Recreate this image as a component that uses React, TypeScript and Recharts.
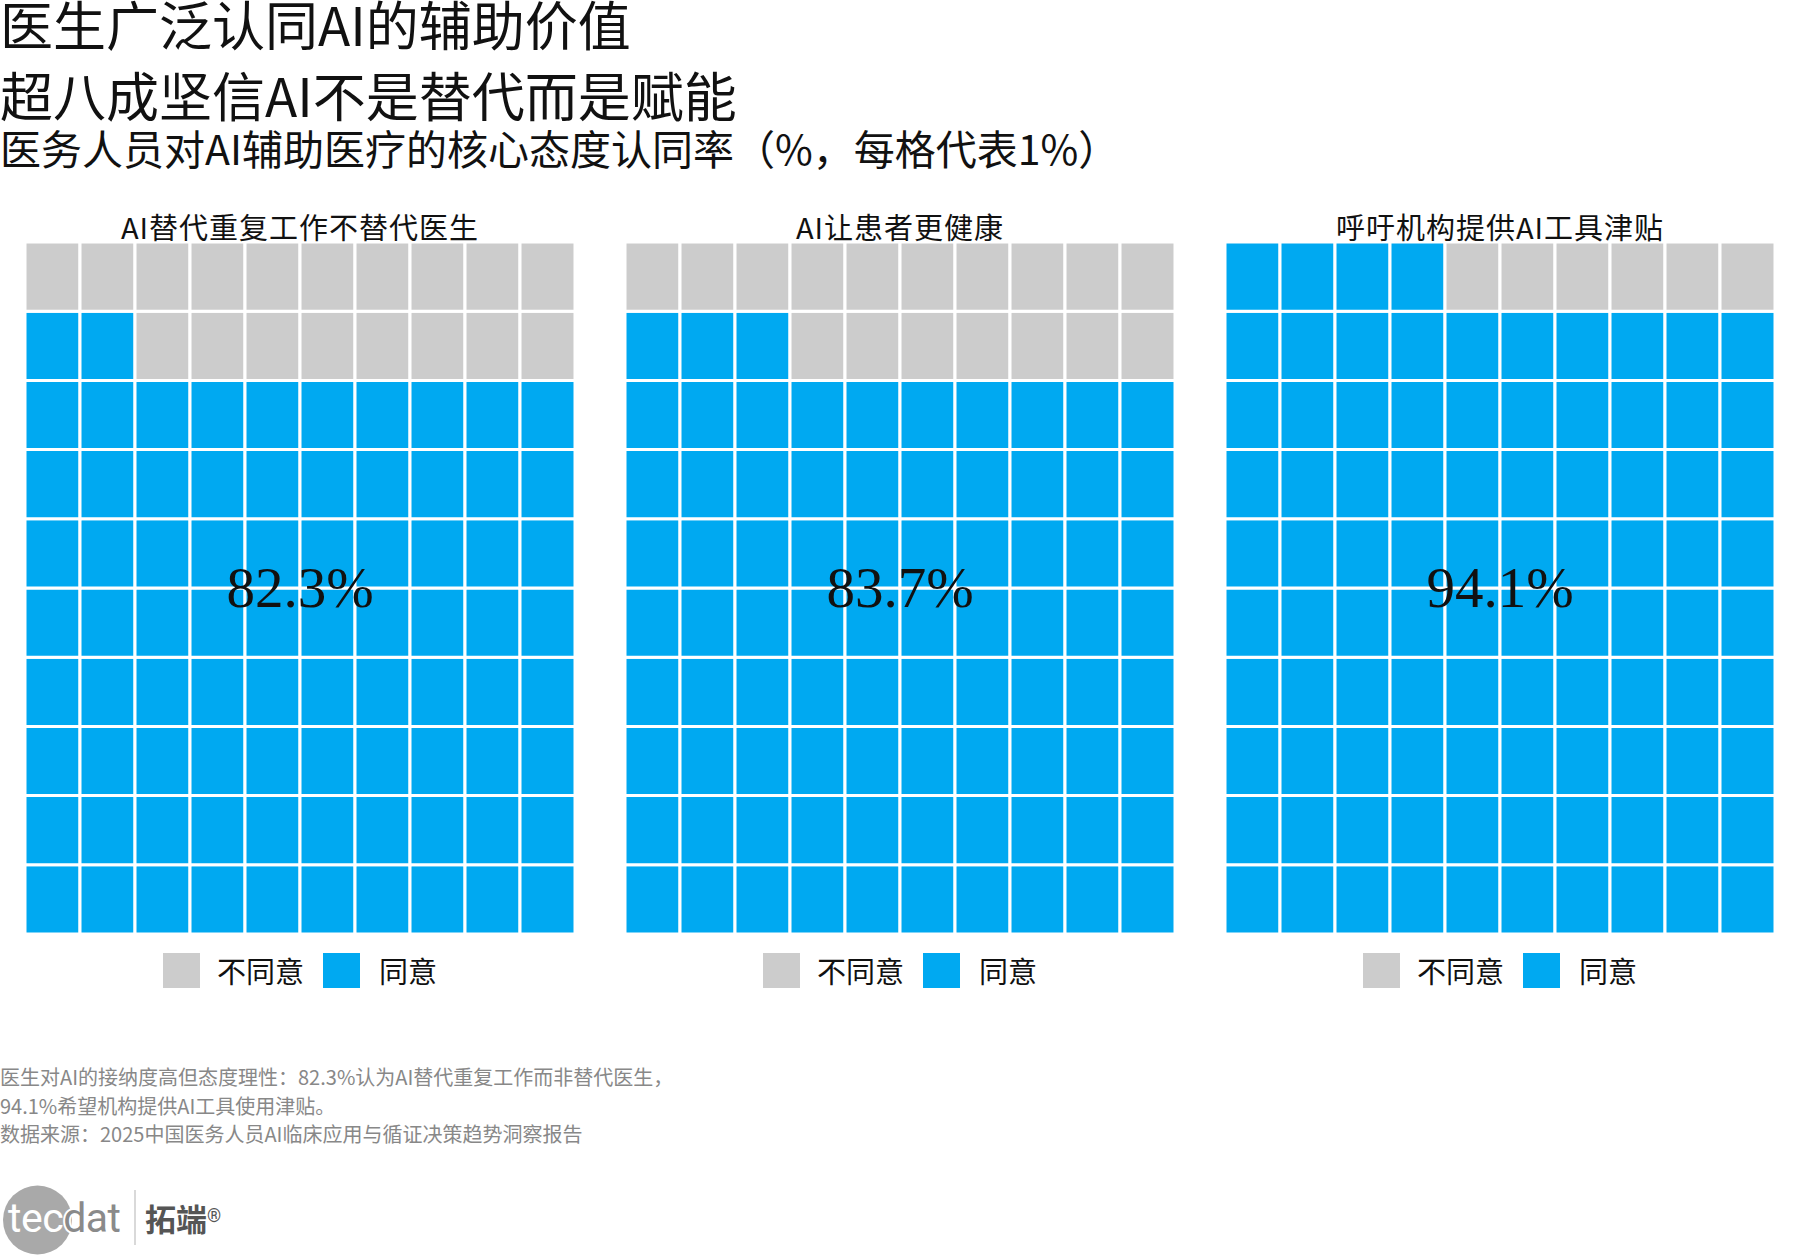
import React from 'react';
import { BarChart, Bar, XAxis, YAxis, Cell, Legend } from 'recharts';

// ---- data ----
const mainTitle = '医生广泛认同AI的辅助价值';
const subTitle = '超八成坚信AI不是替代而是赋能';
const chartTitle = '医务人员对AI辅助医疗的核心态度认同率（%，每格代表1%）';
const panelTitles = ['AI替代重复工作不替代医生', 'AI让患者更健康', '呼吁机构提供AI工具津贴'];
const agreeRates = [82.3, 83.7, 94.1];
const legendLabels = ['不同意', '同意'];
const columnKeys = ['c1', 'c2', 'c3', 'c4', 'c5', 'c6', 'c7', 'c8', 'c9', 'c10'];
const rowKeys = ['r0', 'r1', 'r2', 'r3', 'r4', 'r5', 'r6', 'r7', 'r8', 'r9'];
const cellUnit = 1; // each square = 1%
const footnotes = [
  '医生对AI的接纳度高但态度理性：82.3%认为AI替代重复工作而非替代医生，',
  '94.1%希望机构提供AI工具使用津贴。',
  '数据来源：2025中国医务人员AI临床应用与循证决策趋势洞察报告',
];

// ---- style ----
const BLUE = '#00A9F1';
const GRAY = '#CCCCCC';
const CJK = '"Noto Sans CJK SC", "Noto Sans", sans-serif';
const SERIF = '"Liberation Serif", "DejaVu Serif", serif';

const PANEL_LEFT0 = 25;
const PANEL_STEP = 600;
const PANEL_W = 550;
const PANEL_TOP = 242;
const PLOT_H = 692;
const LEGEND_H = 72;

const waffleData = columnKeys.map((col) => {
  const row: Record<string, any> = { col };
  rowKeys.forEach((k) => {
    row[k] = cellUnit;
  });
  return row;
});

const LegendContent = () => (
  <div
    style={{
      height: LEGEND_H,
      display: 'flex',
      alignItems: 'center',
      justifyContent: 'center',
      fontFamily: CJK,
      fontSize: 29,
      color: '#111',
    }}
  >
    <span style={{ width: 37, height: 35, background: GRAY, display: 'inline-block', marginRight: 17 }} />
    <span style={{ marginRight: 19 }}>{legendLabels[0]}</span>
    <span style={{ width: 37, height: 35, background: BLUE, display: 'inline-block', marginRight: 19 }} />
    <span>{legendLabels[1]}</span>
  </div>
);

const Waffle = ({ rate }: { rate: number }) => {
  const filled = Math.floor(rate);
  return (
    <BarChart
      width={PANEL_W}
      height={PLOT_H + LEGEND_H}
      data={waffleData}
      margin={{ top: 0, right: 0, bottom: 0, left: 0 }}
      barCategoryGap={0}
      barGap={0}
    >
      <XAxis dataKey="col" type="category" hide />
      <YAxis type="number" domain={[0, rowKeys.length]} hide />
      {rowKeys.map((rk, r) => (
        <Bar
          key={rk}
          dataKey={rk}
          stackId="w"
          isAnimationActive={false}
          stroke="#ffffff"
          strokeWidth={3}
        >
          {waffleData.map((d, c) => (
            <Cell key={d.col} fill={r * columnKeys.length + c < filled ? BLUE : GRAY} />
          ))}
        </Bar>
      ))}
      <Legend verticalAlign="bottom" content={<LegendContent />} />
    </BarChart>
  );
};

export default function App() {
  return (
    <div
      style={{
        position: 'absolute',
        left: 0,
        top: 0,
        width: 1800,
        height: 1260,
        overflow: 'hidden',
        background: '#fff',
        fontFamily: CJK,
      }}
    >
      <div style={{ position: 'absolute', left: 0, top: -3, fontSize: 53, lineHeight: '53px', color: '#111', whiteSpace: 'nowrap' }}>
        {mainTitle}
      </div>
      <div style={{ position: 'absolute', left: 0, top: 68, fontSize: 53, lineHeight: '53px', color: '#111', whiteSpace: 'nowrap' }}>
        {subTitle}
      </div>
      <div style={{ position: 'absolute', left: 0, top: 127, fontSize: 41, lineHeight: '41px', color: '#111', whiteSpace: 'nowrap' }}>
        {chartTitle}
      </div>

      {agreeRates.map((rate, i) => {
        const left = PANEL_LEFT0 + i * PANEL_STEP;
        return (
          <React.Fragment key={i}>
            <div
              style={{
                position: 'absolute',
                left,
                width: PANEL_W,
                top: 212,
                textAlign: 'center',
                fontSize: 29,
                lineHeight: '29px',
                color: '#111',
                letterSpacing: 1,
                whiteSpace: 'nowrap',
              }}
            >
              {panelTitles[i]}
            </div>
            <div style={{ position: 'absolute', left, top: PANEL_TOP }}>
              <Waffle rate={rate} />
            </div>
            <svg
              style={{ position: 'absolute', left, top: PANEL_TOP, pointerEvents: 'none' }}
              width={PANEL_W}
              height={PLOT_H}
            >
              <text
                x={PANEL_W / 2}
                y={PLOT_H / 2 + 19}
                textAnchor="middle"
                fontFamily={SERIF}
                fontSize={57}
                fill="#111"
              >
                {`${rate.toFixed(1)}%`}
              </text>
            </svg>
          </React.Fragment>
        );
      })}

      <div style={{ position: 'absolute', left: 0, top: 1063, fontSize: 20, lineHeight: '28.7px', color: '#888', whiteSpace: 'nowrap' }}>
        {footnotes.map((f, i) => (
          <div key={i}>{f}</div>
        ))}
      </div>

      <svg style={{ position: 'absolute', left: 0, top: 1170 }} width={260} height={90}>
        <circle cx={37.5} cy={50} r={34.5} fill="#a9a9a9" />
        <text x={8} y={62} fontFamily="Roboto, sans-serif" fontSize={41} letterSpacing={-0.5}>
          <tspan fill="#ffffff">tec</tspan>
          <tspan fill="#8a8a8a" stroke="#ffffff" strokeWidth={4} paintOrder="stroke">dat</tspan>
        </text>
        <line x1={135} y1={20} x2={135} y2={75} stroke="#cccccc" strokeWidth={1.5} />
        <text x={145} y={61} fontFamily={CJK} fontSize={31} fontWeight={700} fill="#555">拓端</text>
        <text x={207} y={52} fontFamily="Roboto, sans-serif" fontSize={18} fill="#555">®</text>
      </svg>
    </div>
  );
}
